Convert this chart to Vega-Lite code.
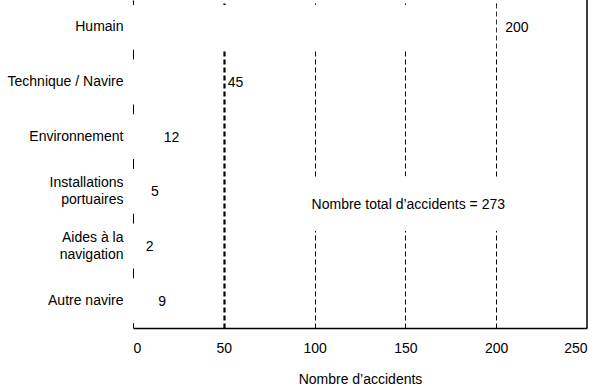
{
  "$schema": "https://vega.github.io/schema/vega-lite/v6.json",
  "width": 454,
  "height": 328,
  "autosize": {"type": "none"},
  "padding": {"left": 133, "top": 0, "right": 13, "bottom": 58},
  "background": "white",
  "config": {
    "view": {"stroke": null},
    "font": "Liberation Sans",
    "text": {"font": "Liberation Sans", "fontSize": 14, "color": "black"}
  },
  "datasets": {
    "bars": [
      {"cause": "Humain", "n": 200},
      {"cause": "Technique / Navire", "n": 45},
      {"cause": "Environnement", "n": 12},
      {"cause": "Installations|portuaires", "n": 5},
      {"cause": "Aides à la|navigation", "n": 2},
      {"cause": "Autre navire", "n": 9}
    ],
    "note": [
      {"cause": "Installations|portuaires", "x": 151.6, "label": "Nombre total d’accidents = 273"}
    ]
  },
  "layer": [
    {
      "data": {"name": "bars"},
      "mark": {"type": "bar", "fill": "white", "stroke": null},
      "encoding": {
        "y": {
          "field": "cause", "type": "nominal", "sort": null,
          "scale": {"paddingInner": 0.18, "paddingOuter": 0.09},
          "axis": {
            "title": null, "ticks": false, "grid": false,
            "domainColor": "black", "domainWidth": 1, "zindex": 0,
            "labelExpr": "split(datum.label, '|')",
            "labelOffset": {"expr": "indexof(datum.value, '|') >= 0 ? -8 : 0"},
            "labelFont": "Liberation Sans", "labelFontSize": 14,
            "labelColor": "black", "labelPadding": 10, "labelLineHeight": 17,
            "labelLimit": 200
          }
        },
        "x": {
          "field": "n", "type": "quantitative",
          "scale": {"domain": [0, 250], "nice": false},
          "axis": {
            "values": [0, 50, 100, 150, 200, 250],
            "title": "Nombre d’accidents", "titleFont": "Liberation Sans",
            "titleFontSize": 14, "titleFontWeight": "normal", "titleColor": "black",
            "titlePadding": 17,
            "ticks": false, "labelPadding": 13, "labelFont": "Liberation Sans",
            "labelFontSize": 14, "labelColor": "black",
            "domainColor": "black", "domainWidth": 1.5, "zindex": 0,
            "grid": true, "gridColor": "black", "gridDash": [5, 3],
            "gridWidth": {"expr": "datum.value == 50 ? 2.2 : 1"},
            "gridOpacity": {"expr": "datum.value > 0 && datum.value < 250 ? 1 : 0"}
          }
        }
      }
    },
    {
      "data": {"name": "bars"},
      "transform": [{"filter": "datum.n != 45"}],
      "mark": {"type": "text", "align": "left", "baseline": "middle", "dx": 9, "dy": 1, "fontSize": 14},
      "encoding": {
        "y": {"field": "cause", "type": "nominal", "sort": null},
        "x": {"field": "n", "type": "quantitative"},
        "text": {"field": "n", "type": "quantitative"}
      }
    },
    {
      "data": {"name": "bars"},
      "transform": [{"filter": "datum.n == 45"}],
      "mark": {"type": "text", "align": "left", "baseline": "middle", "dx": 13, "dy": 1, "fontSize": 14},
      "encoding": {
        "y": {"field": "cause", "type": "nominal", "sort": null},
        "x": {"field": "n", "type": "quantitative"},
        "text": {"field": "n", "type": "quantitative"}
      }
    },
    {
      "data": {"name": "note"},
      "mark": {"type": "text", "align": "center", "baseline": "middle", "dy": 14, "fontSize": 14,
               "fill": "white", "stroke": "white", "strokeWidth": 44, "strokeJoin": "round"},
      "encoding": {
        "y": {"field": "cause", "type": "nominal", "sort": null},
        "x": {"field": "x", "type": "quantitative"},
        "text": {"field": "label"}
      }
    },
    {
      "data": {"name": "note"},
      "mark": {"type": "text", "align": "center", "baseline": "middle", "dy": 14, "fontSize": 14, "fill": "black"},
      "encoding": {
        "y": {"field": "cause", "type": "nominal", "sort": null},
        "x": {"field": "x", "type": "quantitative"},
        "text": {"field": "label"}
      }
    },
    {
      "data": {"values": [{}]},
      "mark": {"type": "rule", "color": "black", "strokeWidth": 1.5},
      "encoding": {"x": {"datum": 250}}
    }
  ]
}
